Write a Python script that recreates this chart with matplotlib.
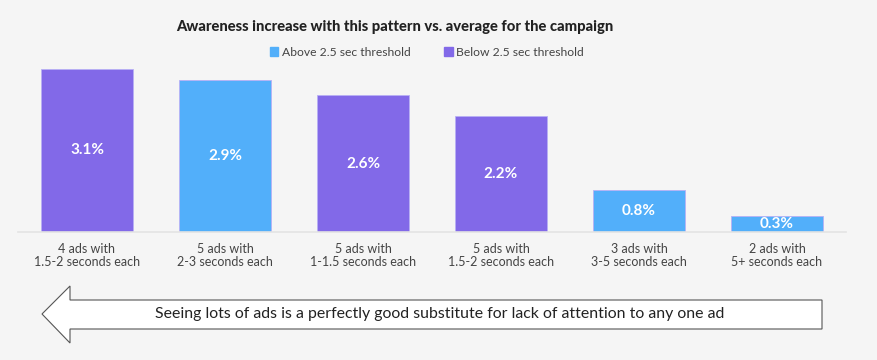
import matplotlib.pyplot as plt
from matplotlib.patches import Patch, Polygon

categories = ['4 ads with\n1.5-2 seconds each', '5 ads with\n2-3 seconds each',
              '5 ads with\n1-1.5 seconds each', '5 ads with\n1.5-2 seconds each',
              '3 ads with\n3-5 seconds each', '2 ads with\n5+ seconds each']
values = [3.1, 2.9, 2.6, 2.2, 0.8, 0.3]
groups = ['Below', 'Above', 'Below', 'Below', 'Above', 'Above']

blue = '#52AFFA'
purple = '#8269E8'
bg = '#F5F5F5'
colors = [blue if g == 'Above' else purple for g in groups]

plt.rcParams['font.family'] = ['Lato', 'DejaVu Sans']

W, H = 878, 360
fig = plt.figure(figsize=(W / 100, H / 100), dpi=100, facecolor=bg)
ax = fig.add_axes([18 / W, 128 / H, 828 / W, 163 / H], facecolor=bg)

x = range(len(categories))
ax.bar(x, values, width=0.667, color=colors, edgecolor='#b8b0f5', linewidth=0.6)
for xi, v in zip(x, values):
    ax.text(xi, v / 2, f'{v:.1f}%', ha='center', va='center', color='white',
            fontsize=11, fontweight='bold')

ax.set_xlim(-0.5, len(categories) - 0.5)
ax.set_ylim(0, 3.1)
ax.set_xticks(list(x))
ax.set_xticklabels(categories, fontsize=9, color='#444444', linespacing=1.1)
ax.tick_params(axis='x', length=0, pad=8)
ax.set_yticks([])
for s in ['top', 'left', 'right']:
    ax.spines[s].set_visible(False)
ax.spines['bottom'].set_color('#e3e3e3')
ax.spines['bottom'].set_linewidth(1.2)

fig.text(395 / W, 1 - 27 / H, 'Awareness increase with this pattern vs. average for the campaign',
         ha='center', va='center', fontsize=10.6, fontweight='black', color='#222222')

handles = [Patch(color=blue, label='Above 2.5 sec threshold'),
           Patch(color=purple, label='Below 2.5 sec threshold')]
fig.legend(handles=handles, loc='center', bbox_to_anchor=(427 / W, 1 - 52 / H), ncol=2,
           frameon=False, fontsize=8.7, handlelength=0.7, handleheight=0.7,
           handletextpad=0.3, columnspacing=2.8, labelcolor='#444444')

# arrow box at the bottom
pts = [(42, 314), (70, 286), (70, 300), (822, 300), (822, 329), (70, 329), (70, 343)]
pts = [(px / W, 1 - py / H) for px, py in pts]
fig.patches.append(Polygon(pts, closed=True, transform=fig.transFigure,
                           facecolor='white', edgecolor='#555555', linewidth=0.8))
fig.text(440 / W, 1 - 314 / H,
         'Seeing lots of ads is a perfectly good substitute for lack of attention to any one ad',
         ha='center', va='center', fontsize=11.4, color='#222222')

fig.savefig('out.png', dpi=100, facecolor=bg)
